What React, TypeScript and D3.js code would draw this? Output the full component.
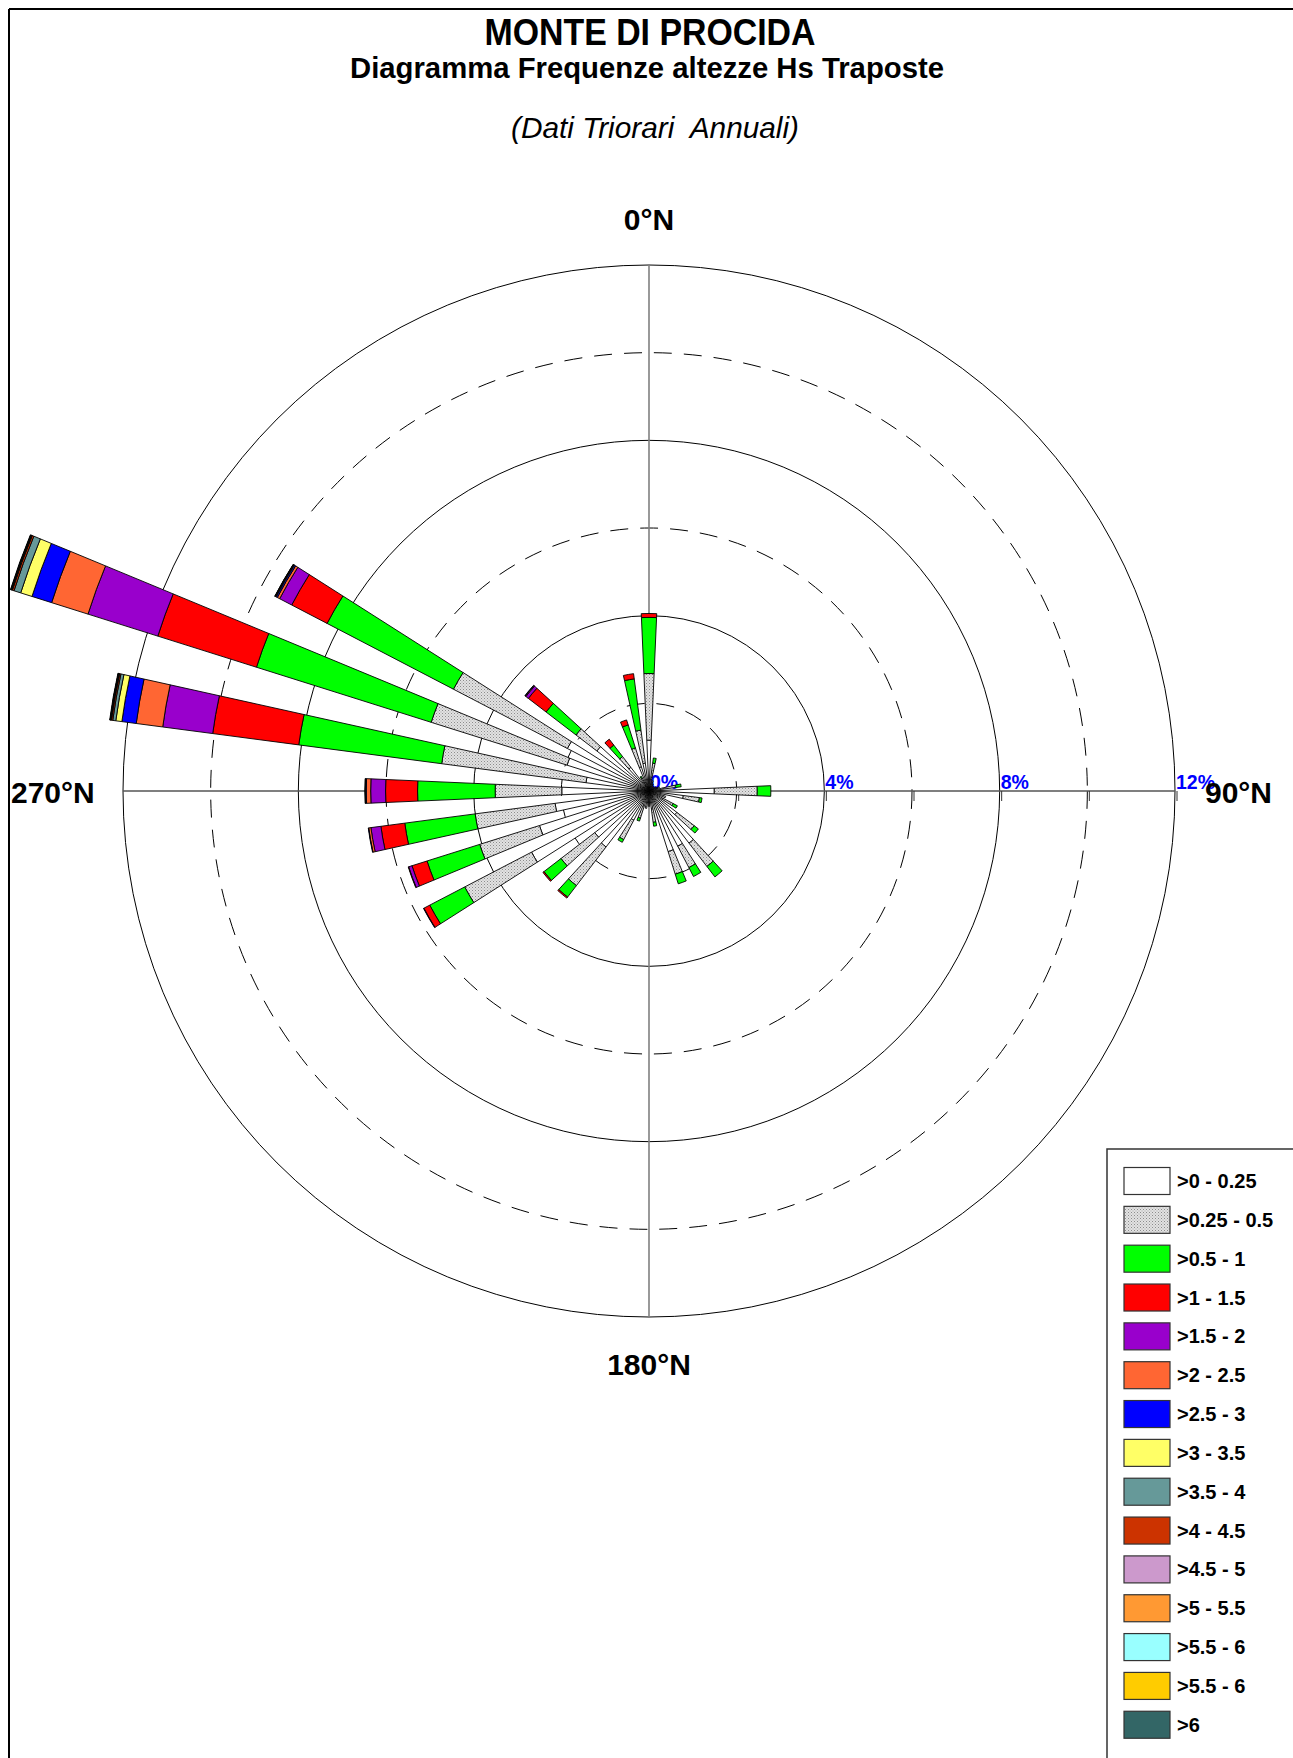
import React from 'react';
import * as d3 from 'd3';

// Directions (degrees, clockwise from North)
const directions = [0, 10, 20, 30, 40, 50, 60, 70, 80, 90, 100, 110, 120, 130, 140, 150, 160, 170,
  180, 190, 200, 210, 220, 230, 240, 250, 260, 270, 280, 290, 300, 310, 320, 330, 340, 350];

// Frequencies (%) per Hs class, one value per direction
const hs0_025 = [1.16, 0.32, 0.2, 0.15, 0.12, 0.12, 0.15, 0.2, 0.33, 1.49, 0.79, 0.25, 0.35, 0.8, 1.5, 1.42, 1.45, 0.4,
  0.25, 0.25, 0.35, 0.75, 1.61, 1.56, 3.02, 2.62, 2.16, 1.99, 1.45, 1.96, 2.1, 1.5, 0.68, 0.2, 0.58, 0.64];
const hs025_05 = [1.52, 0.32, 0.05, 0.03, 0.02, 0.02, 0.03, 0.05, 0.28, 0.98, 0.37, 0.15, 0.27, 0.5, 0.67, 0.55, 0.54, 0.32,
  0.1, 0.15, 0.3, 0.5, 1.11, 0.97, 1.72, 1.43, 1.84, 1.52, 3.32, 3.25, 2.93, 0.6, 0.31, 0.14, 0.45, 0.76];
const hs05_1 = [1.28, 0.12, 0, 0, 0, 0, 0, 0, 0.13, 0.31, 0.06, 0, 0.11, 0.12, 0.3, 0.23, 0.23, 0.09,
  0, 0, 0.07, 0.07, 0.33, 0.49, 0.9, 1.26, 1.62, 1.77, 3.29, 4.18, 3.25, 0.86, 0.33, 0.04, 0.55, 1.18];
const hs1_15 = [0.09, 0, 0, 0, 0, 0, 0, 0, 0, 0, 0, 0, 0, 0, 0, 0, 0, 0,
  0, 0, 0, 0, 0.03, 0.03, 0.15, 0.36, 0.55, 0.73, 1.98, 2.36, 0.91, 0.51, 0.17, 0, 0.12, 0.12];
const hs15_2 = [0, 0, 0, 0, 0, 0, 0, 0, 0, 0, 0, 0, 0, 0, 0, 0, 0, 0,
  0, 0, 0, 0, 0, 0, 0.01, 0.08, 0.23, 0.34, 1.15, 1.67, 0.31, 0.07, 0, 0, 0, 0];
const hs2_25 = [0, 0, 0, 0, 0, 0, 0, 0, 0, 0, 0, 0, 0, 0, 0, 0, 0, 0,
  0, 0, 0, 0, 0, 0, 0, 0.01, 0.05, 0.1, 0.61, 0.87, 0.06, 0.02, 0, 0, 0, 0];
const hs25_3 = [0, 0, 0, 0, 0, 0, 0, 0, 0, 0, 0, 0, 0, 0, 0, 0, 0, 0,
  0, 0, 0, 0, 0, 0, 0, 0, 0.01, 0.02, 0.33, 0.47, 0.03, 0.01, 0, 0, 0, 0];
const hs3_35 = [0, 0, 0, 0, 0, 0, 0, 0, 0, 0, 0, 0, 0, 0, 0, 0, 0, 0,
  0, 0, 0, 0, 0, 0, 0, 0, 0, 0.005, 0.14, 0.27, 0.01, 0, 0, 0, 0, 0];
const hs35_4 = [0, 0, 0, 0, 0, 0, 0, 0, 0, 0, 0, 0, 0, 0, 0, 0, 0, 0,
  0, 0, 0, 0, 0, 0, 0, 0, 0, 0.005, 0.07, 0.16, 0.01, 0, 0, 0, 0, 0];
const hs4_45 = [0, 0, 0, 0, 0, 0, 0, 0, 0, 0, 0, 0, 0, 0, 0, 0, 0, 0,
  0, 0, 0, 0, 0, 0, 0, 0, 0, 0, 0.03, 0.04, 0.01, 0, 0, 0, 0, 0];
const hs45_5 = [0, 0, 0, 0, 0, 0, 0, 0, 0, 0, 0, 0, 0, 0, 0, 0, 0, 0,
  0, 0, 0, 0, 0, 0, 0, 0, 0, 0, 0.01, 0.01, 0, 0, 0, 0, 0, 0];
const hs5_55 = [0, 0, 0, 0, 0, 0, 0, 0, 0, 0, 0, 0, 0, 0, 0, 0, 0, 0,
  0, 0, 0, 0, 0, 0, 0, 0, 0, 0, 0.01, 0.015, 0, 0, 0, 0, 0, 0];
const hs55_6a = [0, 0, 0, 0, 0, 0, 0, 0, 0, 0, 0, 0, 0, 0, 0, 0, 0, 0,
  0, 0, 0, 0, 0, 0, 0, 0, 0, 0, 0.005, 0.005, 0, 0, 0, 0, 0, 0];
const hs55_6b = [0, 0, 0, 0, 0, 0, 0, 0, 0, 0, 0, 0, 0, 0, 0, 0, 0, 0,
  0, 0, 0, 0, 0, 0, 0, 0, 0, 0, 0.005, 0.005, 0, 0, 0, 0, 0, 0];
const hs6 = [0, 0, 0, 0, 0, 0, 0, 0, 0, 0, 0, 0, 0, 0, 0, 0, 0, 0,
  0, 0, 0, 0, 0, 0, 0, 0, 0, 0, 0.01, 0.01, 0.005, 0, 0, 0, 0, 0];

const classLabels = ['>0 - 0.25', '>0.25 - 0.5', '>0.5 - 1', '>1 - 1.5', '>1.5 - 2', '>2 - 2.5', '>2.5 - 3',
  '>3 - 3.5', '>3.5 - 4', '>4 - 4.5', '>4.5 - 5', '>5 - 5.5', '>5.5 - 6', '>5.5 - 6', '>6'];
const classColors = ['#FFFFFF', 'url(#hatch)', '#00FF00', '#FF0000', '#9900CC', '#FF6633', '#0000FF',
  '#FFFF66', '#669999', '#CC3300', '#CC99CC', '#FF9933', '#99FFFF', '#FFCC00', '#336666'];
const classValues = [hs0_025, hs025_05, hs05_1, hs1_15, hs15_2, hs2_25, hs25_3, hs3_35, hs35_4, hs4_45,
  hs45_5, hs5_55, hs55_6a, hs55_6b, hs6];

const solidRings = [4, 8, 12];
const dashedRings = [2, 6, 10];
const tickValues = [2, 4, 6, 8, 10, 12];
const ringLabels = [0, 4, 8, 12];

const FONT = '"Liberation Sans", Arial, Helvetica, sans-serif';

export default function App() {
  const W = 1293;
  const H = 1758;
  const cx = 649;
  const cy = 791;
  const r = d3.scaleLinear().domain([0, 12]).range([0, 526]);
  const arc = d3.arc();
  const half = (2.5 * Math.PI) / 180;

  const segments: { d: string; fill: string; key: string }[] = [];
  directions.forEach((dir, i) => {
    let acc = 0;
    classValues.forEach((vals, k) => {
      const v = vals[i];
      if (v > 0) {
        const a = (dir * Math.PI) / 180;
        const d = arc({
          innerRadius: r(acc),
          outerRadius: r(acc + v),
          startAngle: a - half,
          endAngle: a + half,
        } as any) as string;
        segments.push({ d, fill: classColors[k], key: `${dir}-${k}` });
        acc += v;
      }
    });
  });

  const legendX = 1107;
  const legendY = 1149;
  const itemY0 = 1181;
  const itemStep = 38.84;

  return (
    <svg width={W} height={H} style={{ position: 'absolute', left: 0, top: 0, background: '#fff' }}
      fontFamily={FONT}>
      <defs>
        <pattern id="hatch" width="3" height="3" patternUnits="userSpaceOnUse">
          <rect width="3" height="3" fill="#e2e2e2" />
          <rect x="0" y="0" width="1" height="1" fill="#8c8c8c" />
          <rect x="1.5" y="1.5" width="1" height="1" fill="#a8a8a8" />
        </pattern>
      </defs>
      <rect x={0} y={0} width={W} height={H} fill="#fff" />
      {/* frame */}
      <line x1={9} y1={9} x2={W} y2={9} stroke="#000" strokeWidth={2} />
      <line x1={9} y1={9} x2={9} y2={H} stroke="#000" strokeWidth={2} />

      {/* titles */}
      <text x={650} y={45} textAnchor="middle" fontSize={37} fontWeight="bold" textLength={331}
        lengthAdjust="spacingAndGlyphs">MONTE DI PROCIDA</text>
      <text x={647} y={78} textAnchor="middle" fontSize={29} fontWeight="bold" textLength={594}
        lengthAdjust="spacingAndGlyphs">Diagramma Frequenze altezze Hs Traposte</text>
      <text x={655} y={138} textAnchor="middle" fontSize={30} fontStyle="italic" textLength={288}
        lengthAdjust="spacingAndGlyphs" style={{ whiteSpace: 'pre' }}>(Dati Triorari  Annuali)</text>

      <g transform={`translate(${cx},${cy})`}>
        {dashedRings.map((v) => (
          <circle key={`d${v}`} r={r(v)} fill="none" stroke="#000" strokeWidth={1} strokeDasharray="18 12" />
        ))}
        {solidRings.map((v) => (
          <circle key={`s${v}`} r={r(v)} fill="none" stroke="#000" strokeWidth={1} />
        ))}
        {/* axes */}
        <line x1={0} y1={-r(12)} x2={0} y2={r(12)} stroke="#808080" strokeWidth={1.6} />
        <line x1={-r(12)} y1={0} x2={r(12)} y2={0} stroke="#555" strokeWidth={1.3} />
        {tickValues.map((v) => (
          <line key={`t${v}`} x1={r(v) + 2} y1={0} x2={r(v) + 2} y2={10} stroke="#333" strokeWidth={1} />
        ))}
        {ringLabels.map((v) => (
          <text key={`l${v}`} x={r(v) + 1} y={-2} fontSize={19.5} fontWeight="bold" fill="#0000ff">{`${v}%`}</text>
        ))}
        {/* bars */}
        {segments.map((s) => (
          <path key={s.key} d={s.d} fill={s.fill} stroke="#000" strokeWidth={0.9} />
        ))}
      </g>

      {/* compass labels */}
      <text x={649} y={230} textAnchor="middle" fontSize={30} fontWeight="bold">0°N</text>
      <text x={11} y={803} fontSize={30} fontWeight="bold">270°N</text>
      <text x={1205} y={803} fontSize={30} fontWeight="bold">90°N</text>
      <text x={649} y={1375} textAnchor="middle" fontSize={30} fontWeight="bold">180°N</text>

      {/* legend */}
      <rect x={legendX} y={legendY} width={260} height={700} fill="#fff" stroke="#333" strokeWidth={1.5} />
      {classLabels.map((lab, i) => {
        const yc = itemY0 + i * itemStep;
        return (
          <g key={`leg${i}`}>
            <rect x={1124} y={yc - 13.5} width={46} height={27} fill={classColors[i]} stroke="#333" strokeWidth={1.2} />
            <text x={1177} y={yc + 7} fontSize={20} fontWeight="bold">{lab}</text>
          </g>
        );
      })}
    </svg>
  );
}
